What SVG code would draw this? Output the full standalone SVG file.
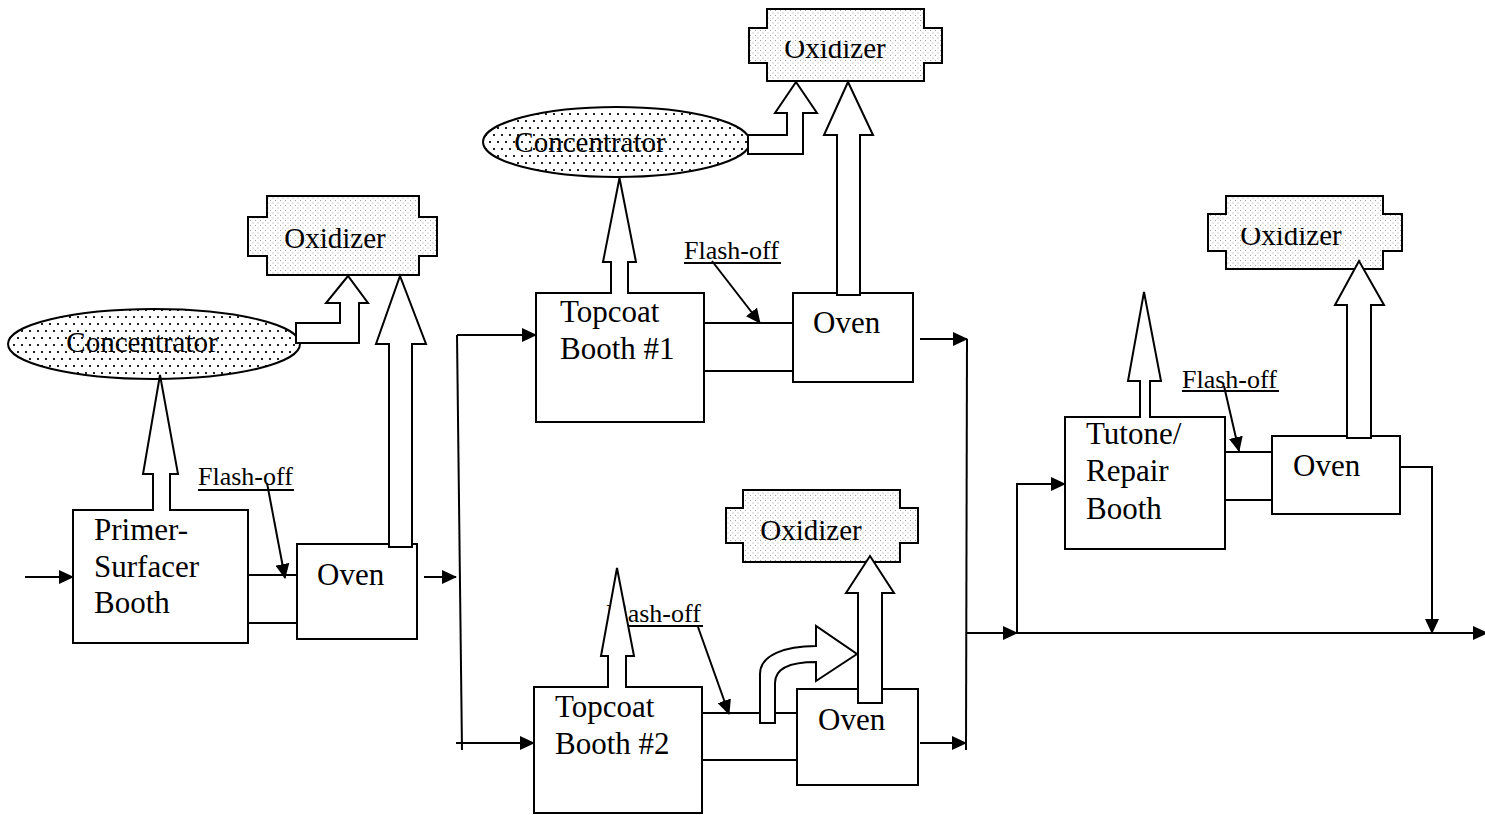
<svg xmlns="http://www.w3.org/2000/svg" width="1485" height="815" viewBox="0 0 1485 815">
<style>
.box{fill:#fff;stroke:#000;stroke-width:2}
.ox{fill:url(#dotsOx);stroke:#000;stroke-width:2}
.conc{fill:url(#dotsConc);stroke:#000;stroke-width:2}
.t{font-family:"Liberation Serif","Times New Roman",serif;font-size:31px;fill:#000}
.oxt{font-family:"Liberation Serif","Times New Roman",serif;font-size:29px;fill:#000;text-anchor:middle}
.fo{font-family:"Liberation Serif","Times New Roman",serif;font-size:26px;fill:#000}
.ln{stroke:#000;stroke-width:2;fill:none}
.arr{marker-end:url(#ah)}
.blk{fill:#fff;stroke:#000;stroke-width:2;stroke-linejoin:miter}
</style>
<defs>
<pattern id="dotsOx" width="5" height="5" patternUnits="userSpaceOnUse"><rect width="5" height="5" fill="#fff"/><rect x="0" y="0" width="1" height="1" fill="#a0a0a0"/><rect x="2.5" y="2.5" width="1" height="1" fill="#a0a0a0"/></pattern>
<pattern id="dotsConc" width="8" height="14" patternUnits="userSpaceOnUse"><rect width="8" height="14" fill="#fff"/><rect x="1" y="1" width="2" height="2" fill="#222"/><rect x="5" y="8" width="2" height="2" fill="#222"/></pattern>
<marker id="ah" markerUnits="userSpaceOnUse" markerWidth="15" markerHeight="14" refX="14" refY="7" orient="auto"><path d="M0,0 L15,7 L0,14 Z" fill="#000"/></marker>
<clipPath id="clipOxTop"><rect x="740" y="41" width="210" height="40"/></clipPath>
<clipPath id="clipOxRight"><rect x="1200" y="228" width="210" height="40"/></clipPath>
</defs>

<g id="oxidizer-left">
<path class="ox" d="M267,196 H419 V217 H437 V256 H419 V275 H267 V256 H248 V217 H267 Z"/>
<text class="oxt" x="335" y="248">Oxidizer</text>
</g>
<g id="oxidizer-top">
<path class="ox" d="M767,9 H924 V28 H942 V63 H924 V81 H767 V63 H749 V28 H767 Z"/>
<text class="oxt" x="835" y="58" clip-path="url(#clipOxTop)">Oxidizer</text>
</g>
<g id="oxidizer-mid">
<path class="ox" d="M743,490 H900 V508 H918 V543 H900 V562 H743 V543 H726 V508 H743 Z"/>
<text class="oxt" x="811" y="540">Oxidizer</text>
</g>
<g id="oxidizer-right">
<path class="ox" d="M1226,196 H1383 V214 H1402 V251 H1383 V269 H1226 V251 H1208 V214 H1226 Z"/>
<text class="oxt" x="1291" y="245" clip-path="url(#clipOxRight)">Oxidizer</text>
</g>
<g id="concentrator-left">
<ellipse class="conc" cx="154" cy="344" rx="146" ry="35"/>
<text class="oxt" x="142" y="352">Concentrator</text>
</g>
<g id="concentrator-top">
<ellipse class="conc" cx="616.5" cy="142" rx="133.5" ry="35"/>
<text class="oxt" x="590" y="152">Concentrator</text>
</g>
<g id="primer-booth">
<rect class="box" x="73" y="510" width="175" height="133"/>
<text class="t" x="94" y="540">Primer-</text>
<text class="t" x="94" y="577">Surfacer</text>
<text class="t" x="94" y="613">Booth</text>
</g>
<g id="primer-oven">
<rect class="box" x="297" y="544" width="120" height="95"/>
<text class="t" x="317" y="585">Oven</text>
</g>
<g id="topcoat-booth-1">
<rect class="box" x="536" y="293" width="168" height="129"/>
<text class="t" x="560" y="322">Topcoat</text>
<text class="t" x="560" y="359">Booth #1</text>
</g>
<g id="oven-1">
<rect class="box" x="793" y="293" width="120" height="89"/>
<text class="t" x="813" y="333">Oven</text>
</g>
<g id="topcoat-booth-2">
<rect class="box" x="534" y="687" width="168" height="126"/>
<text class="t" x="555" y="717">Topcoat</text>
<text class="t" x="555" y="754">Booth #2</text>
</g>
<g id="oven-2">
<rect class="box" x="797" y="689" width="121" height="96"/>
<text class="t" x="818" y="730">Oven</text>
</g>
<g id="tutone-booth">
<rect class="box" x="1065" y="417" width="160" height="132"/>
<text class="t" x="1086" y="444">Tutone/</text>
<text class="t" x="1086" y="481">Repair</text>
<text class="t" x="1086" y="519">Booth</text>
</g>
<g id="oven-3">
<rect class="box" x="1272" y="436" width="128" height="78"/>
<text class="t" x="1293" y="476">Oven</text>
</g>

<g id="connectors">
<path class="ln" d="M248,575 H297 M248,623 H297"/>
<path class="ln" d="M704,323 H793 M704,371 H793"/>
<path class="ln" d="M702,713 H797 M702,760 H797"/>
<path class="ln" d="M1225,452 H1272 M1225,500 H1272"/>
<text class="fo" x="198" y="485">Flash-off</text>
<line class="ln" x1="198" y1="490" x2="294" y2="490"/>
<line class="ln arr" x1="267" y1="483" x2="285" y2="578"/>
<text class="fo" x="684" y="259">Flash-off</text>
<line class="ln" x1="684" y1="263" x2="781" y2="263"/>
<line class="ln arr" x1="712" y1="261" x2="760" y2="323"/>
<text class="fo" x="606" y="622">Flash-off</text>
<line class="ln" x1="606" y1="626" x2="703" y2="626"/>
<line class="ln arr" x1="698" y1="627" x2="729" y2="714"/>
<text class="fo" x="1182" y="388">Flash-off</text>
<line class="ln" x1="1182" y1="391" x2="1279" y2="391"/>
<line class="ln arr" x1="1224" y1="386" x2="1239" y2="451"/>
<line class="ln arr" x1="25" y1="577" x2="73" y2="577"/>
<line class="ln arr" x1="424" y1="577" x2="456" y2="577"/>
<line class="ln" x1="457" y1="335" x2="462" y2="750"/>
<line class="ln arr" x1="457" y1="335" x2="536" y2="335"/>
<line class="ln arr" x1="456" y1="743" x2="534" y2="743"/>
<line class="ln arr" x1="920" y1="339" x2="967" y2="339"/>
<line class="ln" x1="967" y1="339" x2="966" y2="750"/>
<line class="ln arr" x1="920" y1="743" x2="966" y2="743"/>
<line class="ln arr" x1="966" y1="633" x2="1017" y2="633"/>
<line class="ln arr" x1="1017" y1="633" x2="1487" y2="633"/>
<path class="ln arr" d="M1017,633 V484 H1065"/>
<path class="ln arr" d="M1400,467 H1432 V633"/>
<path class="blk" d="M153,511 V474 H143 L160,375 L178,474 H170 V511"/>
<path class="blk" d="M389,547 V344 H376 L400,276 L426,344 H412 V547 Z"/>
<path class="blk" d="M296,323 H340 V303 H326 L348,276 L368,303 H359 V343 H296 Z"/>
<path class="blk" d="M611,294 V262 H603 L619.5,178 L636,262 H628 V294"/>
<path class="blk" d="M748,135 H787 V113 H775 L796,82 L817,113 H803 V154 H748 Z"/>
<path class="blk" d="M837,295 V135 H824 L848,82 L873,135 H860 V295 Z"/>
<path class="blk" d="M608,688 V656 H601 L617,568 L634,656 H626 V688"/>
<path class="blk" d="M858,703 V593 H846 L870,556 L894,593 H882 V703 Z"/>
<path class="blk" d="M760,723 V674 C760,655 785,646 816,646 V626 L857,654 L816,681 V662 C790,662 775,668 775,683 V723 Z"/>
<path class="blk" d="M1140,418 V381 H1128 L1144,292 L1161,381 H1150 V418"/>
<path class="blk" d="M1347,438 V305 H1335 L1359,261 L1384,305 H1371 V438 Z"/>
</g>
</svg>
